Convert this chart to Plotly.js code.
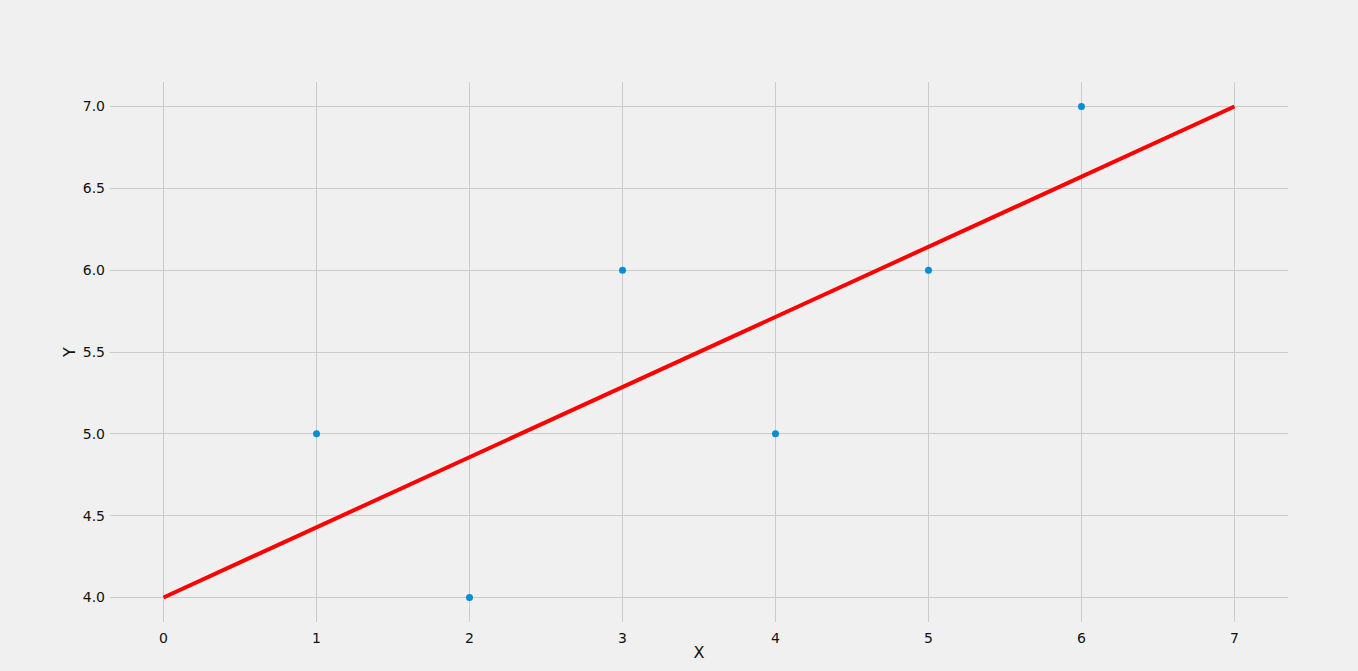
<!DOCTYPE html>
<html>
<head>
<meta charset="utf-8">
<script src="https://cdn.plot.ly/plotly-3.0.1.min.js"></script>
<style>
  html, body { margin: 0; padding: 0; background: #f0f0f0; }
  #chart { width: 1358px; height: 671px; }
</style>
</head>
<body>
<div id="chart"></div>
<script>
// scatter points
const xPoints = [1, 2, 3, 4, 5, 6];
const yPoints = [5, 4, 6, 5, 6, 7];

// fitted line end points
const xLine = [0, 7];
const yLine = [4, 7];

const xTicks = [0, 1, 2, 3, 4, 5, 6, 7];
const yTicks = [4.0, 4.5, 5.0, 5.5, 6.0, 6.5, 7.0];

const font = { family: "DejaVu Sans", size: 14, color: "#111111" };
const titleFont = { family: "DejaVu Sans", size: 16, color: "#111111" };

Plotly.newPlot("chart", [
    {
        x: xPoints,
        y: yPoints,
        type: "scatter",
        mode: "markers",
        marker: { color: "#008fd5", size: 7 },
        hoverinfo: "skip"
    },
    {
        x: xLine,
        y: yLine,
        type: "scatter",
        mode: "lines",
        line: { color: "#ff0000", width: 4 },
        hoverinfo: "skip"
    }
], {
    width: 1358,
    height: 671,
    paper_bgcolor: "#f0f0f0",
    plot_bgcolor: "#f0f0f0",
    showlegend: false,
    font: font,
    margin: { l: 110, r: 70, t: 82, b: 49 },
    xaxis: {
        range: [-0.35, 7.35],
        tickvals: xTicks,
        ticktext: xTicks.map(v => String(v)),
        showgrid: true,
        gridcolor: "#cbcbcb",
        gridwidth: 1,
        zeroline: false,
        showline: false,
        ticklabelstandoff: 6,
        title: { text: "X", font: titleFont, standoff: 1 }
    },
    yaxis: {
        range: [3.85, 7.15],
        tickvals: yTicks,
        ticktext: yTicks.map(v => v.toFixed(1)),
        showgrid: true,
        gridcolor: "#cbcbcb",
        gridwidth: 1,
        zeroline: false,
        showline: false,
        ticklabelstandoff: 4,
        title: { text: "Y", font: titleFont, standoff: 3 }
    }
}, { displayModeBar: false, staticPlot: true });
</script>
</body>
</html>
